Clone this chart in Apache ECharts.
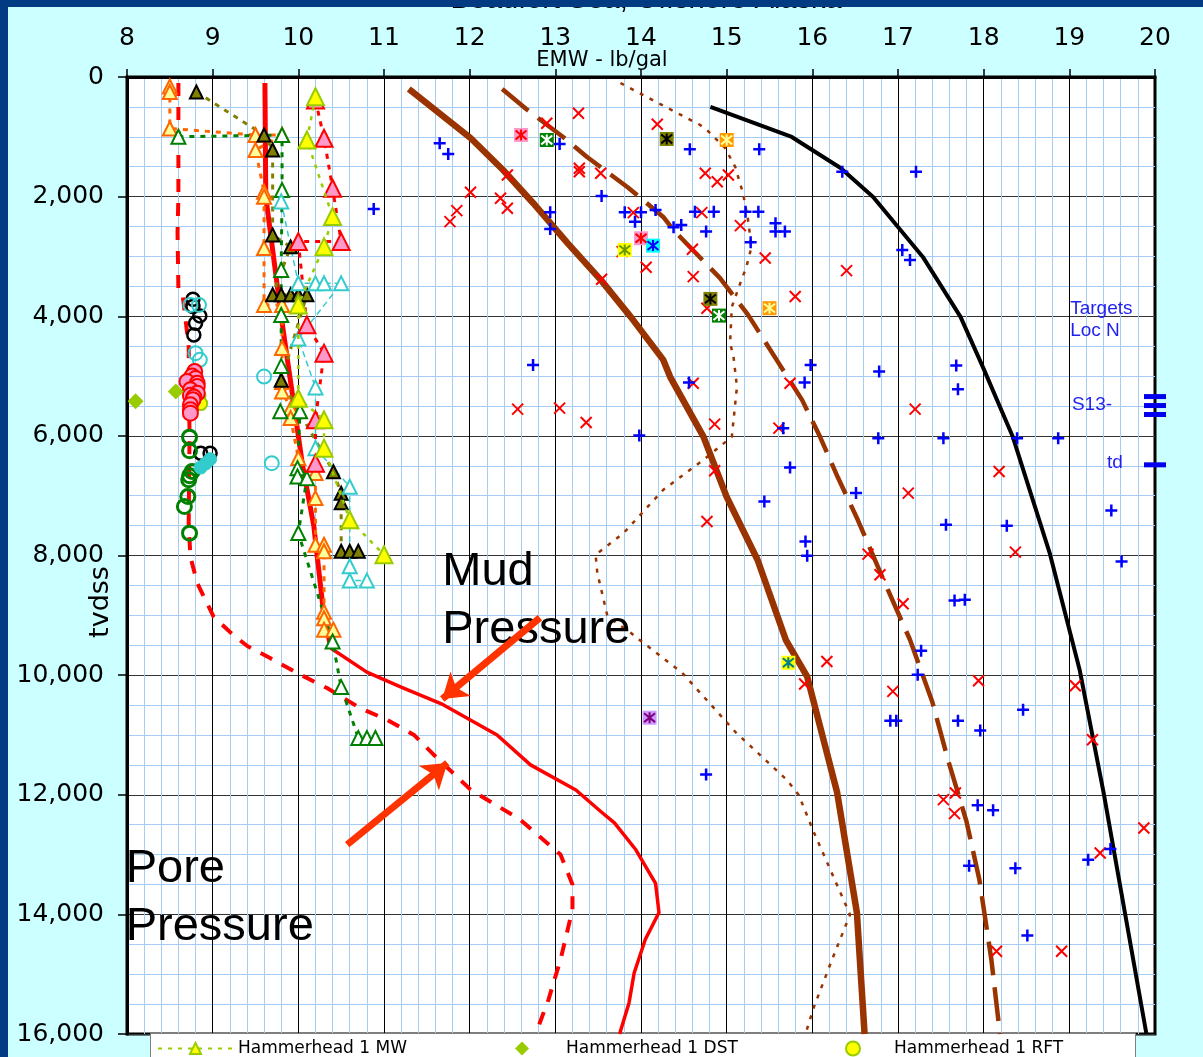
<!DOCTYPE html>
<html><head><meta charset="utf-8">
<script src="https://cdn.jsdelivr.net/npm/echarts@6/dist/echarts.min.js"></script>
<style>
html,body{margin:0;padding:0;background:#033b82;width:1203px;height:1057px;overflow:hidden}
#c{position:absolute;left:8px;top:7px;width:1195px;height:1050px}
</style></head><body><div id="c"></div>
<script>
// ---------------- axis ranges ----------------
const xMin = 8, xMax = 20, xStep = 1;
const dMin = 0, dMax = 16000, dStep = 2000;

// ---------------- curves [EMW, depth] ----------------
const brownSolidData = [[11.29,200],[12.01,1020],[12.39,1554],[12.74,2106],[13.14,2774],[13.53,3392],[13.88,4011],[14.26,4730],[14.34,5013],[14.73,6016],[15.0,7019],[15.36,8071],[15.69,9409],[15.94,10027],[16.29,11965],[16.52,13971],[16.61,16000]];
const brownDashData = [[12.38,200],[12.66,535],[13.09,1003],[13.37,1337],[13.84,1838],[14.26,2340],[14.38,2560],[14.92,3359],[15.25,3977],[15.62,4813],[15.88,5398],[16.09,6016],[16.30,6701],[16.53,7403],[16.83,8406],[17.14,9409],[17.40,10445],[17.59,11447],[17.80,12450],[17.95,13420],[18.09,14757],[18.19,16000]];
const brownDotData = [[13.76,100],[14.20,435],[14.69,802],[14.77,886],[14.98,1186],[15.10,1504],[15.19,1939],[15.25,2390],[15.29,2841],[15.23,3175],[15.16,3443],[15.06,3844],[15.04,4445],[15.08,4679],[15.12,5180],[15.06,6016],[14.73,6400],[14.26,6902],[13.80,7620],[13.47,7988],[13.49,8289],[13.61,9024],[13.88,9291],[13.98,9409],[14.48,9960],[15.11,10963],[15.70,11748],[15.84,12000],[16.02,12634],[16.44,14004],[16.23,14757],[16.02,15542],[15.92,16000]];
const blackData = [[14.81,500],[15.76,1003],[16.33,1521],[16.71,2005],[17.29,3008],[17.73,4011],[17.99,4846],[18.34,6016],[18.77,7955],[19.12,9910],[19.40,11965],[19.90,16000]];
const mudThickData = [[9.61,100],[9.62,2000],[9.80,4000],[9.95,5500],[10.05,6500],[10.18,7500],[10.29,8900],[10.38,9550]];
const mudThinData = [[10.38,9550],[10.80,9950],[11.20,10200],[11.67,10480],[12.32,11000],[12.71,11500],[13.24,11920],[13.53,12280],[13.69,12470],[13.94,12920],[14.17,13480],[14.21,13970],[14.05,14420],[13.92,14980],[13.86,15480],[13.75,16000]];
const poreData = [[8.60,100],[8.60,2000],[8.59,2600],[8.60,3560],[8.65,3650],[8.72,4500],[8.73,6000],[8.72,7460],[8.74,8020],[8.82,8460],[9.01,9020],[9.21,9290],[9.40,9510],[9.67,9715],[10.02,9990],[10.34,10220],[10.72,10550],[11.04,10750],[11.35,11000],[11.58,11330],[12.01,11915],[12.59,12416],[13.06,13000],[13.20,13500],[13.20,13920],[13.06,14760],[12.92,15425],[12.77,16000]];

// ---------------- well mud-weight triangles ----------------
const mwData = [[10.20,330],[10.10,1053],[10.40,2334],[10.30,2836],[10.0,3810],[10.0,5370],[10.30,5732],[10.30,6205],[10.60,7403],[11.0,7988]];
const orangeData = [[8.50,160],[8.50,250],[8.50,860],[9.50,970],[9.81,970],[9.50,1220],[9.60,1920],[9.60,2000],[9.60,2860],[9.60,3810],[9.81,3810],[9.81,4530],[9.81,5100],[9.81,5260],[9.91,5540],[9.91,5700],[10.0,6370],[10.20,6620],[10.20,7040],[10.20,7820],[10.30,7820],[10.30,7930],[10.30,8940],[10.30,9050],[10.30,9240],[10.41,9240]];
const oliveData = [[8.81,250],[9.60,970],[9.70,1220],[9.70,2640],[9.91,2840],[9.70,3640],[9.80,3640],[9.91,3640],[10.0,3640],[10.10,3640],[9.80,5070],[10.41,6600],[10.50,6960],[10.50,7120],[10.50,7930],[10.60,7930],[10.70,7930]];
const greenTriData = [[8.60,1000],[9.81,970],[9.81,1890],[9.80,3225],[9.80,3980],[9.80,4830],[9.79,5590],[10.02,5590],[9.99,6540],[9.99,6680],[10.10,6710],[10.0,7625],[10.40,9437],[10.50,10200],[10.70,11050],[10.80,11050],[10.90,11050]];
const cyanTriData = [[9.80,2080],[10.0,3450],[10.20,3450],[10.30,3450],[10.50,3450],[10.0,4370],[10.20,5190],[10.20,6205],[10.60,6850],[10.60,8180],[10.60,8420],[10.80,8420]];
const pinkTriData = [[10.20,384],[10.30,1025],[10.40,1860],[10.50,2752],[10.0,2752],[10.10,4144],[10.30,4617],[10.20,5732],[10.20,6456]];

// ---------------- circles / diamonds ----------------
const blackCircData = [[8.77,3715],[8.77,3838],[8.85,3994],[8.80,4116],[8.78,4312],[8.86,6289],[8.97,6289]];
const cyanCircData = [[8.74,3810],[8.84,3810],[8.80,4617],[8.85,4729],[9.60,5008],[9.69,6456]];
const redCircData = [[8.79,4925],[8.76,5000],[8.80,5040],[8.70,5092],[8.82,5120],[8.82,5176],[8.74,5230],[8.82,5286],[8.74,5320],[8.78,5350],[8.77,5398],[8.74,5481],[8.74,5565],[8.74,5620]];
const greenCircData = [[8.73,6021],[8.73,6250],[8.76,6596],[8.73,6668],[8.72,6735],[8.71,7014],[8.67,7181],[8.73,7626]];
const cyanDotData = [[8.86,6530],[8.92,6460],[8.97,6390]];
const rftData = [[8.84,5330],[8.86,5460]];
const dstData = [[8.10,5420],[8.57,5260]];

// ---------------- offset-well scatter ----------------
const redXData = [[13.27,607],[12.90,774],[14.19,790],[13.28,1526],[13.28,1583],[13.53,1609],[14.75,1609],[14.89,1750],[15.02,1638],[12.44,1638],[12.01,1927],[12.36,2027],[12.44,2194],[11.85,2234],[11.77,2418],[13.91,2268],[14.71,2268],[15.16,2485],[13.99,2696],[13.78,2919],[14.60,2879],[15.45,3025],[14.06,3180],[14.61,3337],[13.54,3381],[16.40,3237],[15.80,3671],[14.77,3865],[12.56,5553],[13.05,5536],[13.36,5777],[14.61,5119],[14.86,5804],[15.74,5119],[15.61,5871],[14.86,6584],[14.77,7432],[16.17,9771],[17.20,5553],[18.18,6596],[17.12,6957],[16.65,7977],[16.79,8322],[18.37,7943],[17.06,8807],[15.91,10149],[16.94,10272],[17.94,10094],[19.07,10177],[19.27,11080],[17.53,12082],[17.67,11970],[17.66,12316],[19.87,12555],[19.36,12973],[18.15,14617],[18.91,14617]];
const bluePlusData = [[11.65,1108],[11.75,1287],[13.05,1120],[14.57,1208],[15.38,1208],[13.54,1989],[12.94,2261],[12.94,2540],[13.81,2261],[13.93,2418],[14.00,2261],[14.17,2223],[14.38,2512],[14.47,2473],[14.63,2251],[14.85,2251],[14.76,2585],[15.22,2251],[15.37,2251],[15.57,2445],[15.57,2585],[15.68,2585],[15.28,2762],[16.35,1583],[17.21,1583],[17.05,2891],[17.14,3058],[10.88,2206],[12.74,4813],[14.56,5109],[13.98,5994],[15.98,4813],[15.91,5109],[15.66,5871],[15.74,6529],[15.44,7097],[15.92,7766],[15.94,8005],[16.78,4925],[17.68,4825],[17.70,5219],[16.77,6038],[17.53,6038],[18.39,6038],[18.87,6038],[16.51,6957],[17.56,7487],[18.27,7503],[19.49,7248],[19.61,8100],[17.66,8752],[17.78,8740],[17.27,9592],[17.23,9993],[16.91,10762],[16.98,10762],[17.70,10762],[17.96,10924],[18.46,10578],[14.76,11661],[17.93,12177],[18.11,12261],[17.83,13185],[18.37,13230],[19.22,13085],[19.48,12906],[18.51,14355]];
const pinkSqData = [[12.60,969],[14.00,2696]];
const greenSqData = [[12.90,1053],[14.91,3989]];
const oliveSqData = [[14.30,1036],[14.81,3710]];
const orangeSqData = [[15.00,1053],[15.50,3865]];
const yellowSqData = [[13.81,2891]];
const cyanSqData = [[14.14,2819]];
const yellowTealSqData = [[15.72,9793]];
const purpleSqData = [[14.10,10712]];

// ---------------- targets / notes ----------------
const targetData = [[20,5343],[20,5493],[20,5643],[20,6484]];
const smallNoteText = ['Targets\nLoc N', 'S13-', 'td'];
const smallNoteX = [19.01, 19.03, 19.44];
const smallNoteD = [3690, 5300, 6270];
const bigNoteText = ['Mud\nPressure', 'Pore\nPressure'];
const bigNoteX = [11.68, 7.985];
const bigNoteD = [7790, 12760];
const arrowTail = [[12.82,9041],[10.57,12834]];
const arrowHead = [[11.68,10400],[11.74,11470]];
const legendNames = ['Hammerhead 1 MW','Hammerhead 1 DST','Hammerhead 1 RFT'];

// ---------------- helpers ----------------
const X_PATH = 'path://M0,0L10,10M10,0L0,10';
const PLUS_PATH = 'path://M5,0L5,10M0,5L10,5';
const AST_PATH = 'path://M1,1L9,9M9,1L1,9M5,0L5,10';

function curve(name, data, color, width, type, z) {
  return {name, type:'line', data, symbol:'none', showSymbol:false, clip:false, z:z||2,
    lineStyle:{color, width, type:type||'solid'}, emphasis:{disabled:true}, silent:true};
}
function triLine(name, data, fill, border, lineColor, lineW, lineType, size, z) {
  return {name, type:'line', data, symbol:'triangle', symbolSize:size, showSymbol:true, clip:false, z:z||4,
    itemStyle:{color:fill, borderColor:border, borderWidth:2},
    lineStyle:{color:lineColor, width:lineW, type:lineType}, emphasis:{disabled:true}, silent:true};
}
function scat(name, data, symbol, size, fill, border, bw, z) {
  return {name, type:'scatter', data, symbol, symbolSize:size, clip:false, z:z||5,
    itemStyle:{color:fill, borderColor:border, borderWidth:bw, opacity:1}, emphasis:{disabled:true}, silent:true};
}
function squareWell(name, data, fill, mark) {
  return [scat(name, data, 'rect', 14, fill, fill, 0, 6),
          scat(name+' mark', data, AST_PATH, 11, 'rgba(0,0,0,0)', mark, 2, 7)];
}
function notes(name, texts, xs, ds, font) {
  return {name, type:'scatter', symbolSize:0, clip:false, z:8, silent:true,
    itemStyle:{opacity:1},
    data: texts.map((t,i)=>({value:[xs[i], ds[i]], name:t})),
    label:Object.assign({show:true, position:[0,0], align:'left', verticalAlign:'top',
      formatter:p=>p.name, opacity:1, textBorderWidth:0}, font)};
}
const legendText = {color:'#000', fontFamily:'"DejaVu Sans"', fontSize:17};
function oneLegend(name, left, itemWidth, textPad) {
  return {show:true, data:[name], left, top:1026, orient:'horizontal', itemWidth, itemHeight:14,
    padding:[7,0,7,0], selectedMode:false, z:6,
    textStyle:Object.assign({padding:[0,0,0,textPad]}, legendText)};
}

const series = [
  curve('Shallow Dotted', brownDotData, '#993300', 2.5, [4,7], 2),
  curve('Frac Dashed', brownDashData, '#993300', 4.5, [34,12], 2),
  curve('Frac Gradient', brownSolidData, '#993300', 6.5, 'solid', 2),
  curve('Overburden', blackData, '#000000', 4, 'solid', 2),
  curve('Pore Pressure', poreData, '#ff0000', 4, [13,11], 3),
  curve('Mud Pressure', mudThickData, '#ff0000', 5, 'solid', 3),
  curve('Mud Pressure deep', mudThinData, '#ff0000', 3.5, 'solid', 3),
  triLine('Orange MW', orangeData, '#ffff99', '#ff6600', '#ff6600', 3, [5,6], 14),
  triLine('Olive MW', oliveData, '#808000', '#000000', '#808000', 3, [5,6], 13),
  triLine('Green MW', greenTriData, '#ffffff', '#008000', '#008000', 3, [5,6], 14),
  triLine('Cyan MW', cyanTriData, '#ffffff', '#33cccc', '#33cccc', 1.5, [6,4], 14),
  triLine('Pink MW', pinkTriData, '#ff99cc', '#ff0000', '#ff0000', 3, [5,6], 17),
  triLine('Hammerhead 1 MW', mwData, '#ffff00', '#99cc00', '#99cc00', 2.5, [4,6], 17, 5),
  scat('Black RFT', blackCircData, 'circle', 13, '#ffffff00', '#000000', 2.5),
  scat('Cyan RFT', cyanCircData, 'circle', 14, '#ffffff00', '#33cccc', 2),
  scat('Hammerhead 1 RFT', rftData, 'circle', 13, '#ffff00', '#99cc00', 2),
  scat('Red RFT', redCircData, 'circle', 15, '#ff99cc', '#ff0000', 2),
  scat('Green RFT', greenCircData, 'circle', 14, '#ffffff00', '#008000', 3),
  scat('Cyan filled', cyanDotData, 'circle', 13, '#33cccc', '#33cccc', 1),
  scat('Hammerhead 1 DST', dstData, 'diamond', 16, '#99cc00', '#99cc00', 0),
  scat('Offset MW', redXData, X_PATH, 11, 'rgba(0,0,0,0)', '#ff0000', 2, 5),
  scat('Offset LOT', bluePlusData, PLUS_PATH, 12, 'rgba(0,0,0,0)', '#0000ff', 2.5, 5),
  ...squareWell('Well P', pinkSqData, '#ff99cc', '#ff0000'),
  ...squareWell('Well G', greenSqData, '#008000', '#ffffff'),
  ...squareWell('Well O', oliveSqData, '#808000', '#000000'),
  ...squareWell('Well R', orangeSqData, '#ff9900', '#ffff99'),
  ...squareWell('Well Y', yellowSqData, '#ffff00', '#669900'),
  ...squareWell('Well C', cyanSqData, '#00ffff', '#0000ff'),
  ...squareWell('Well T', yellowTealSqData, '#ffff00', '#008080'),
  ...squareWell('Well V', purpleSqData, '#cc99ff', '#800080'),
  scat('Targets', targetData, 'rect', [22,5], '#0000ee', '#0000ee', 0, 6),
  {type:'lines', coordinateSystem:'cartesian2d', polyline:false, z:9, silent:true,
   symbol:['none','arrow'], symbolSize:24,
   lineStyle:{color:'#ff3300', width:7, opacity:1, curveness:0},
   data: arrowTail.map((t,i)=>({coords:[t, arrowHead[i]]}))},
  notes('notes small', smallNoteText, smallNoteX, smallNoteD,
    {fontFamily:'"Liberation Sans", Arial', fontSize:19, lineHeight:22, color:'#1f1fee'}),
  notes('notes big', bigNoteText, bigNoteX, bigNoteD,
    {fontFamily:'"Liberation Sans", Arial', fontSize:47, lineHeight:58, color:'#000000'})
];

const chart = echarts.init(document.getElementById('c'), null, {renderer:'canvas'});
chart.setOption({
  animation:false,
  backgroundColor:'#ccffff',
  grid:{left:119, top:70, width:1028, height:957, show:true, backgroundColor:'#ffffff',
        borderColor:'#000000', borderWidth:3, outerBoundsMode:'none', containLabel:false},
  xAxis:{type:'value', position:'top', min:xMin, max:xMax, interval:xStep,
    axisLine:{show:true, onZero:false, lineStyle:{color:'#000', width:3}},
    axisTick:{show:true, length:8, lineStyle:{color:'#000', width:1.5}},
    axisLabel:{color:'#000', fontFamily:'"DejaVu Sans"', fontSize:25, margin:26},
    splitLine:{show:true, lineStyle:{color:'#000000', width:1}},
    minorTick:{show:false, splitNumber:5},
    minorSplitLine:{show:true, lineStyle:{color:'#a4cdf4', width:1}}},
  yAxis:{type:'value', inverse:true, min:dMin, max:dMax, interval:dStep,
    axisLine:{show:true, onZero:false, lineStyle:{color:'#000', width:3}},
    axisTick:{show:true, length:9, lineStyle:{color:'#000', width:1.5}},
    axisLabel:{color:'#000', fontFamily:'"DejaVu Sans"', fontSize:25, margin:23,
      formatter:v=>v.toLocaleString('en-US')},
    splitLine:{show:true, lineStyle:{color:'#333333', width:1}},
    minorTick:{show:false, splitNumber:4},
    minorSplitLine:{show:true, lineStyle:{color:'#a4cdf4', width:1}}},
  legend:[
    oneLegend(legendNames[0], 149, 75, 0),
    oneLegend(legendNames[1], 507, 14, 32),
    oneLegend(legendNames[2], 837, 14, 29)
  ],
  graphic:[
    {type:'rect', silent:true, z:1, shape:{x:142.5, y:1026.5, width:985, height:40},
     style:{fill:'#ffffff', stroke:'#7f7f7f', lineWidth:1}},
    {type:'text', x:638, y:-7, silent:true,
     style:{text:'Beaufort Sea, Offshore Alaska', fill:'#000', font:'29px "Liberation Sans"', align:'center', verticalAlign:'middle', textAlign:'center', textVerticalAlign:'middle'}},
    {type:'text', x:594, y:54, silent:true,
     style:{text:'EMW - lb/gal', fill:'#000', font:'21px "DejaVu Sans"', align:'center', verticalAlign:'middle', textAlign:'center', textVerticalAlign:'middle'}},
    {type:'text', x:93, y:595, rotation:Math.PI/2, silent:true,
     style:{text:'tvdss', fill:'#000', font:'27px "DejaVu Sans"', align:'center', verticalAlign:'middle', textAlign:'center', textVerticalAlign:'middle'}}
  ],
  series
});
</script></body></html>
